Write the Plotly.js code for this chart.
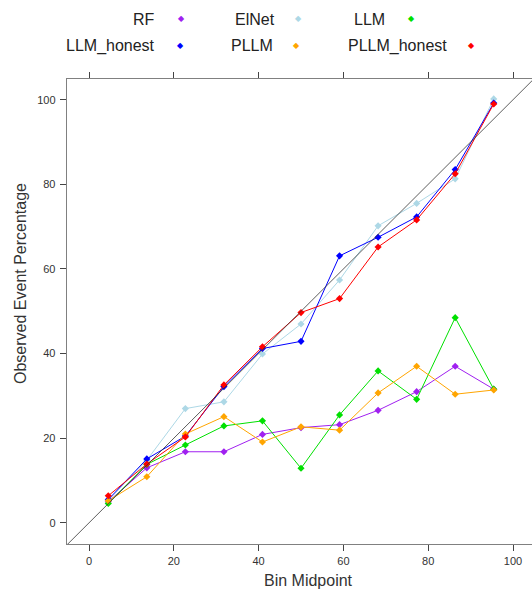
<!DOCTYPE html>
<html>
<head>
<meta charset="utf-8">
<script src="https://cdn.plot.ly/plotly-3.0.1.min.js"></script>
<style>html,body{margin:0;padding:0;background:#fff;}#chart{width:532px;height:596px;}</style>
</head>
<body>
<div id="chart"></div>
<script>
// Bin midpoints (11 bins)
const binMid = [4.545, 13.636, 22.727, 31.818, 40.909, 50.0, 59.091, 68.182, 77.273, 86.364, 95.455];

// Observed event percentages per model
const rf         = [5.0, 13.0, 16.8, 16.8, 20.9, 22.5, 23.2, 26.6, 31.0, 37.0, 31.6];
const elnet      = [5.3, 14.8, 27.0, 28.6, 39.9, 47.0, 57.4, 70.2, 75.5, 81.3, 100.2];
const llm        = [4.6, 13.8, 18.4, 22.9, 24.1, 12.9, 25.5, 35.9, 29.2, 48.5, 31.6];
const llmHonest  = [5.5, 15.1, 20.5, 32.2, 41.2, 42.9, 63.1, 67.5, 72.3, 83.5, 99.2];
const pllm       = [5.2, 10.9, 21.0, 25.1, 19.1, 22.7, 21.9, 30.7, 37.0, 30.4, 31.4];
const pllmHonest = [6.4, 13.9, 20.3, 32.6, 41.6, 49.7, 53.0, 65.2, 71.6, 82.5, 99.0];

const seriesNames  = ["RF", "ElNet", "LLM", "LLM_honest", "PLLM", "PLLM_honest"];
const seriesValues = [rf, elnet, llm, llmHonest, pllm, pllmHonest];
const seriesColors = ["#A020F0", "#ADD8E6", "#00E000", "#0000FF", "#FFA500", "#FF0000"];

const xTicks = [0, 20, 40, 60, 80, 100];
const yTicks = [0, 20, 40, 60, 80, 100];

const W = 532, H = 596;
const M = {l: 67, r: 0, t: 79, b: 52};
const pw = W - M.l - M.r, ph = H - M.t - M.b;
const px = x => (x - M.l) / pw;
const py = y => (H - M.b - y) / ph;

const traces = seriesNames.map((name, i) => ({
  type: "scatter", mode: "lines+markers", name: name,
  x: binMid, y: seriesValues[i],
  line: {color: seriesColors[i], width: 1},
  marker: {color: seriesColors[i], symbol: "diamond", size: 5.5},
  cliponaxis: false,
  showlegend: false
}));

// Legend (lattice-style key: text then marker), positions in pixels
const keyText = [
  {t: "RF", x: 157, y: 20, mx: 181},
  {t: "ElNet", x: 277, y: 20, mx: 298},
  {t: "LLM", x: 387, y: 20, mx: 411},
  {t: "LLM_honest", x: 157, y: 46, mx: 180},
  {t: "PLLM", x: 275, y: 46, mx: 296},
  {t: "PLLM_honest", x: 449, y: 46, mx: 471}
];
const annotations = [];
keyText.forEach(k => {
  const ci = seriesNames.indexOf(k.t);
  annotations.push({xref: "paper", yref: "paper", x: px(k.x), y: py(k.y), xanchor: "right", yanchor: "middle",
    text: k.t, showarrow: false, font: {family: "Liberation Sans, Arial, sans-serif", size: 16, color: "#222"}});
  annotations.push({xref: "paper", yref: "paper", x: px(k.mx), y: py(k.y - 1), xanchor: "center", yanchor: "middle",
    text: "\u25C6", showarrow: false, font: {family: "DejaVu Sans", size: 8, color: seriesColors[ci]}});
});
// Axis titles
annotations.push({xref: "paper", yref: "paper", x: px(308), y: py(580), xanchor: "center", yanchor: "middle",
  text: "Bin Midpoint", showarrow: false, font: {family: "Liberation Sans, Arial, sans-serif", size: 16, color: "#333"}});
annotations.push({xref: "paper", yref: "paper", x: px(20), y: py(284), xanchor: "center", yanchor: "middle",
  text: "Observed Event Percentage", textangle: -90, showarrow: false, font: {family: "Liberation Sans, Arial, sans-serif", size: 16, color: "#333"}});

const axisCommon = {
  showgrid: false, zeroline: false, showline: true, mirror: "ticks",
  linecolor: "#808080", linewidth: 1.3,
  ticks: "outside", ticklen: 6, tickcolor: "#444", tickwidth: 1,
  tickfont: {family: "Liberation Sans, Arial, sans-serif", size: 11, color: "#333"}
};

const layout = {
  width: W, height: H,
  margin: M,
  paper_bgcolor: "#fff", plot_bgcolor: "#fff",
  showlegend: false,
  xaxis: Object.assign({}, axisCommon, {range: [-5.19, 104.48], tickvals: xTicks, ticktext: xTicks.map(String)}),
  yaxis: Object.assign({}, axisCommon, {range: [-5.0, 104.9], tickvals: yTicks, ticktext: yTicks.map(String), ticklabelstandoff: 2}),
  shapes: [{type: "line", xref: "x", yref: "y", x0: -6, y0: -6, x1: 106, y1: 106,
    line: {color: "#333", width: 0.8}, layer: "above"}],
  annotations: annotations
};

Plotly.newPlot("chart", traces, layout, {staticPlot: true, displayModeBar: false});
</script>
</body>
</html>
